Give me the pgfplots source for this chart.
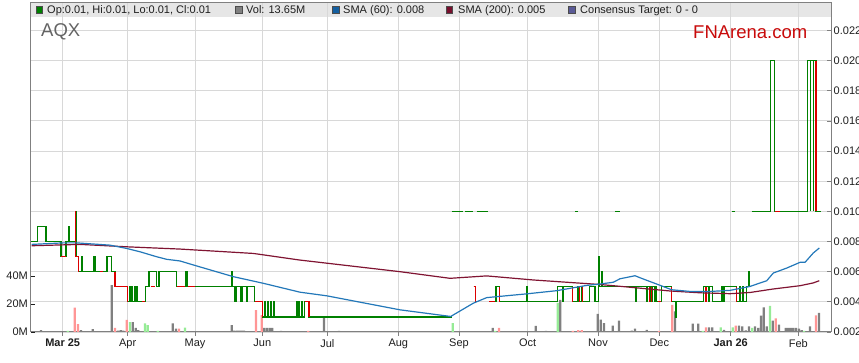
\documentclass[border=0pt]{standalone}
\usepackage{fontspec}
\setmainfont{Liberation Sans}
\usepackage{pgfplots}
\pgfplotsset{compat=1.18}
\definecolor{gridc}{RGB}{216,216,216}
\definecolor{axc}{RGB}{128,128,128}
\definecolor{pgreen}{RGB}{0,128,0}
\definecolor{pred}{RGB}{220,0,0}
\definecolor{smablue}{RGB}{35,120,185}
\definecolor{smared}{RGB}{128,20,50}
\definecolor{vgray}{RGB}{128,128,128}
\definecolor{vpink}{RGB}{255,150,150}
\definecolor{vgreen}{RGB}{150,235,150}
\definecolor{band}{RGB}{230,230,230}
\definecolor{fnred}{RGB}{200,10,10}
\definecolor{cons}{RGB}{90,90,150}
\definecolor{lblue}{RGB}{20,95,160}
\definecolor{lmaroon}{RGB}{120,15,45}
\definecolor{txt}{RGB}{30,30,30}
\newcommand\fs{\fontsize{11}{13}\selectfont}
\begin{document}
\begin{tikzpicture}[x=1pt,y=1pt]
\useasboundingbox (0,0) rectangle (859,363);
\fill[band] (31,346) rectangle (831,360);
% frame axis with grid
\begin{axis}[at={(31pt,31pt)},anchor=south west,scale only axis,width=800pt,height=329pt,
  xmin=31,xmax=831,ymin=0.002,ymax=0.02382,
  axis line style={axc,line width=1pt},
  xtick pos=bottom, ytick pos=right,
  xtick align=outside, ytick align=inside,
  major tick length=4pt, tick style={axc,line width=0.8pt},
  grid=major, major grid style={gridc,line width=0.9pt},
  xtick={62.7,127.7,195,262.3,327.3,398.3,459,527.7,598,659.3,730.7,798.3},
  xticklabels={\textbf{Mar 25},Apr,May,Jun,Jul,Aug,Sep,Oct,Nov,Dec,\textbf{Jan 26},Feb},
  ytick={0.002,0.004,0.006,0.008,0.010,0.012,0.014,0.016,0.018,0.020,0.022},
  yticklabels={0.002,0.004,0.006,0.008,0.010,0.012,0.014,0.016,0.018,0.020,0.022},
  xticklabel style={font=\fs,text=txt,inner sep=0pt,yshift=-3pt},
  yticklabel style={font=\fs,text=txt,inner sep=0pt,anchor=west,xshift=2.5pt},
  /pgf/number format/assume math mode=true]
\addplot[draw=none] coordinates {(31,0.002)};
\end{axis}
% volume axis
\begin{axis}[at={(31pt,31pt)},anchor=south west,scale only axis,width=800pt,height=329pt,
  xmin=31,xmax=831,ymin=0,ymax=235.8,
  axis x line=none, axis y line*=left, y axis line style={draw=none},
  ytick={0,20,40}, yticklabels={0M,20M,40M},
  ytick align=inside, major tick length=4pt, tick style={txt,line width=0.8pt},
  yticklabel style={font=\fs,text=txt,inner sep=0pt,anchor=east,xshift=-3pt},
  ybar, bar shift=0pt, bar width=2.2]
\addplot[fill=vgray,draw=none] coordinates {(41,1.4)(81,1.4)(92.7,2.1)(111.7,33.6)(118,1)(120.7,1.4)(123.3,1)(132.7,7.1)(135.7,2.9)(138.3,1.4)(172.7,6.2)(176,2.4)(231.7,5)(234.3,1)(237,1)(239.3,1)(241.7,1)(244,1)(264.3,2.9)(267,2.9)(269.7,2.9)(272.3,2.9)(281,0.8)(324,10.2)(339,0.8)(492.7,3)(509,0.5)(526.7,0.5)(535.7,4.3)(546,0.8)(560.3,23)(597.7,13)(600.7,8.8)(604,6.4)(612.7,4.5)(619,8.1)(631.7,1)(635,2.4)(646.7,1.6)(675,14.8)(692.7,6)(698.3,6)(709,3.3)(712.3,3.3)(724,1.6)(739,4.5)(742.3,4)(745.7,1.2)(749,4)(755,4)(758.3,2.9)(761,11.7)(763.7,17.6)(766.7,4)(772.7,8.1)(779,5.2)(785.7,2.9)(788.3,2.9)(790.7,2.9)(793.3,2.9)(796,2.9)(799,2.4)(801.7,1.4)(810,4)(819,13.65)};
\addplot[fill=vpink,draw=none] coordinates {(74.7,17.4)(78,5.7)(115,2.9)(126.7,8.6)(179,2.4)(256,15.7)(261.7,12.1)(308.3,0.8)(499,3)(572.7,0.8)(578.3,1.4)(581.7,1.4)(659,0.8)(672.3,19.5)(706,3.3)(735.7,4.5)(775.7,9.8)(816,11.9)};
\addplot[fill=vgreen,draw=none] coordinates {(67.7,0.8)(130,7.1)(145,6.2)(147.7,5)(157.7,0.8)(185,3.1)(452.7,6.4)(495.3,0.8)(557.7,20.9)(702.7,0.8)(720.7,3.3)(732.7,3.3)(752.3,2.9)(770,18.8)(804,0.8)};
\end{axis}
% price plots
\begin{axis}[at={(31pt,31pt)},anchor=south west,scale only axis,width=800pt,height=329pt,
  xmin=31,xmax=831,ymin=0.002,ymax=0.02382, hide axis, unbounded coords=jump]
\addplot[pgreen,line width=1.2pt,const plot] coordinates {
(31,0.008)(37.5,0.009)(46,0.008)(61,0.007)(66,0.008)(68.3,0.009)(69.5,0.008)(75.7,0.010)(76.5,0.007)(78.3,0.006)(81.7,0.007)(82.5,0.006)(93.3,0.007)(95,0.006)(107,0.007)(111.7,0.006)(115,0.005)(127.7,0.004)(130,0.005)(130.8,0.004)(131.7,0.005)(132.5,0.004)(134.3,0.005)(135.1,0.004)(136.7,0.005)(137.5,0.004)(145.7,0.005)(149,0.006)(156.7,0.005)(159,0.006)(176.7,0.005)(186,0.006)(187,0.005)(231.7,0.006)(232.5,0.005)(235,0.004)(236,0.005)(241,0.004)(242,0.005)(246.7,0.004)(247.5,0.005)(254.3,0.004)(262.3,0.003)(265,0.004)(265.8,0.003)(267.7,0.004)(268.5,0.003)(270.5,0.004)(271.3,0.003)(273.3,0.004)(274.1,0.003)(296.7,0.004)(297.5,0.003)(299,0.004)(299.8,0.003)(301.7,0.004)(302.5,0.003)(304.3,0.004)(309,0.003)(451.7,0.003)(451.7,nan)
(473.5,0.005)(475.7,0.004)(477.5,0.004)(477.5,nan)
(489,0.004)(496,0.005)(499.3,0.004)(527,0.005)(527.8,0.004)(557.3,0.005)(562.7,0.004)(563.5,0.005)(572.7,0.004)(578,0.005)(579.3,0.004)(581.5,0.005)(582.7,0.004)(589.3,0.005)(595,0.004)(598.3,0.007)(599.2,0.005)(601.7,0.006)(602.5,0.005)(635.7,0.004)(636.5,0.005)(646.7,0.004)(647.5,0.005)(649.3,0.004)(650.1,0.005)(651.7,0.004)(652.5,0.005)(654.3,0.004)(655.1,0.005)(656.7,0.004)(661.7,0.005)(671.3,0.004)(675.7,0.003)(676.5,0.004)(703.3,0.005)(706,0.004)(706.8,0.005)(708.3,0.004)(709.1,0.005)(712.3,0.004)(721.7,0.005)(722.5,0.004)(724,0.005)(736.7,0.004)(739.3,0.005)(740.1,0.004)(742.3,0.005)(743.1,0.004)(746.7,0.005)(749,0.006)(749.8,0.005)(751,0.005)};
\addplot[pgreen,line width=1.2pt] coordinates {
(451.7,0.010)(463.3,0.010)(463.3,nan)(465,0.010)(473.3,0.010)(473.3,nan)(476.7,0.010)(488.3,0.010)(488.3,nan)(575,0.010)(577.5,0.010)(577.5,nan)(615,0.010)(620,0.010)(620,nan)(731.7,0.010)(735,0.010)(735,nan)
(751.7,0.010)(770.7,0.010)(770.7,0.020)(774.7,0.020)(774.7,0.010)(775.3,0.010)(775.3,nan)(780,0.010)(807.3,0.010)(807.3,0.020)(816,0.020)(816,0.010)(820.7,0.010)(820.7,nan)(810.7,0.010)(810.7,0.020)(810.7,nan)(813.3,0.010)(813.3,0.020)};
\addplot[pred,line width=1.2pt] coordinates {
(61,0.007)(66,0.007)(66,nan)
(75.7,0.010)(75.7,0.007)(78.3,0.007)(78.3,0.006)(78.3,nan)
(100,0.006)(103,0.006)(103,nan)
(115,0.006)(115,0.005)(127.7,0.005)(127.7,0.004)(127.7,nan)
(141.7,0.004)(145,0.004)(145,nan)
(150.7,0.005)(155,0.005)(155,nan)
(176.7,0.005)(185,0.005)(185,nan)
(188,0.005)(195,0.005)(195,nan)
(255,0.004)(262.3,0.004)(262.3,0.003)(262.3,nan)
(305,0.004)(309,0.004)(309,0.003)(309,nan)
(473.5,0.005)(475.7,0.005)(475.7,0.004)(475.7,nan)
(489,0.004)(495,0.004)(495,nan)
(499.3,0.005)(499.3,0.004)(499.3,nan)
(572.7,0.005)(572.7,0.004)(572.7,nan)
(579.3,0.005)(579.3,0.004)(579.3,nan)
(582.7,0.005)(582.7,0.004)(582.7,nan)
(620,0.005)(623,0.005)(623,nan)
(649.3,0.005)(649.3,0.004)(649.3,nan)
(651.7,0.005)(651.7,0.004)(651.7,nan)
(658,0.004)(661,0.004)(661,nan)
(671.3,0.005)(671.3,0.004)(671.3,nan)
(706,0.005)(706,0.004)(706,nan)
(736.7,0.005)(736.7,0.004)(736.7,nan)
(775.3,0.010)(780,0.010)(780,nan)
(816,0.020)(816,0.010)};
\addplot[smared,line width=1.2pt] coordinates {(31.7,0.00772)(80,0.00781)(126.7,0.00765)(180,0.0075)(253.3,0.00721)(300,0.00677)(400,0.006)(450,0.00556)(486.7,0.00572)(533.3,0.00545)(600,0.00515)(633,0.00495)(670,0.00472)(700,0.0046)(730,0.00454)(750,0.00462)(773,0.00485)(800,0.00507)(813,0.00525)(819.3,0.0054)};
\addplot[smablue,line width=1.2pt] coordinates {(31.7,0.00781)(63.3,0.00791)(76.7,0.00791)(110,0.00776)(126.7,0.00754)(140,0.00732)(156.7,0.00699)(166.7,0.00682)(180,0.00671)(196.7,0.00638)(233.3,0.00567)(263.3,0.00523)(300,0.00464)(326.7,0.00440)(400,0.00347)(450.7,0.00303)(473.3,0.00391)(486.7,0.00428)(526.7,0.00453)(556.7,0.00474)(586.7,0.00509)(600,0.00518)(613.3,0.0053)(620,0.00553)(635,0.00573)(645,0.00547)(658.3,0.00514)(671.7,0.0048)(690,0.00469)(710,0.00469)(730,0.00476)(750,0.00502)(760,0.00525)(766.7,0.0054)(773.3,0.00591)(786.7,0.00624)(800,0.00662)(805,0.00662)(813.3,0.00724)(819.3,0.00757)};
\end{axis}
% legend on top
\filldraw[fill=pgreen,draw=black!70,line width=0.5pt] (36,350) rectangle (42.5,356.5);
\node[anchor=base west,inner sep=0pt,text=txt,font=\fs] at (47,349) {Op:0.01, Hi:0.01, Lo:0.01, Cl:0.01};
\filldraw[fill=vgray,draw=black!70,line width=0.5pt] (235.5,350) rectangle (242,356.5);
\node[anchor=base west,inner sep=0pt,text=txt,font=\fs] at (246,349) {Vol: 13.65M};
\filldraw[fill=lblue,draw=black!70,line width=0.5pt] (332.5,350) rectangle (339,356.5);
\node[anchor=base west,inner sep=0pt,text=txt,font=\fs] at (343,349) {SMA (60): 0.008};
\filldraw[fill=lmaroon,draw=black!70,line width=0.5pt] (446,350) rectangle (452.5,356.5);
\node[anchor=base west,inner sep=0pt,text=txt,font=\fs] at (458,349) {SMA (200): 0.005};
\filldraw[fill=cons,draw=black!70,line width=0.5pt] (568.5,350) rectangle (575,356.5);
\node[anchor=base west,inner sep=0pt,text=txt,font=\fs] at (580,349) {Consensus Target: 0 - 0};
\node[anchor=west,inner sep=0pt,text={rgb,255:red,100;green,100;blue,100},font=\fontsize{18.5}{20}\selectfont] at (41,331) {AQX};
\node[anchor=west,inner sep=0pt,text=fnred,font=\fontsize{18.5}{20}\selectfont] at (693,331) {FNArena.com};
\end{tikzpicture}
\end{document}
